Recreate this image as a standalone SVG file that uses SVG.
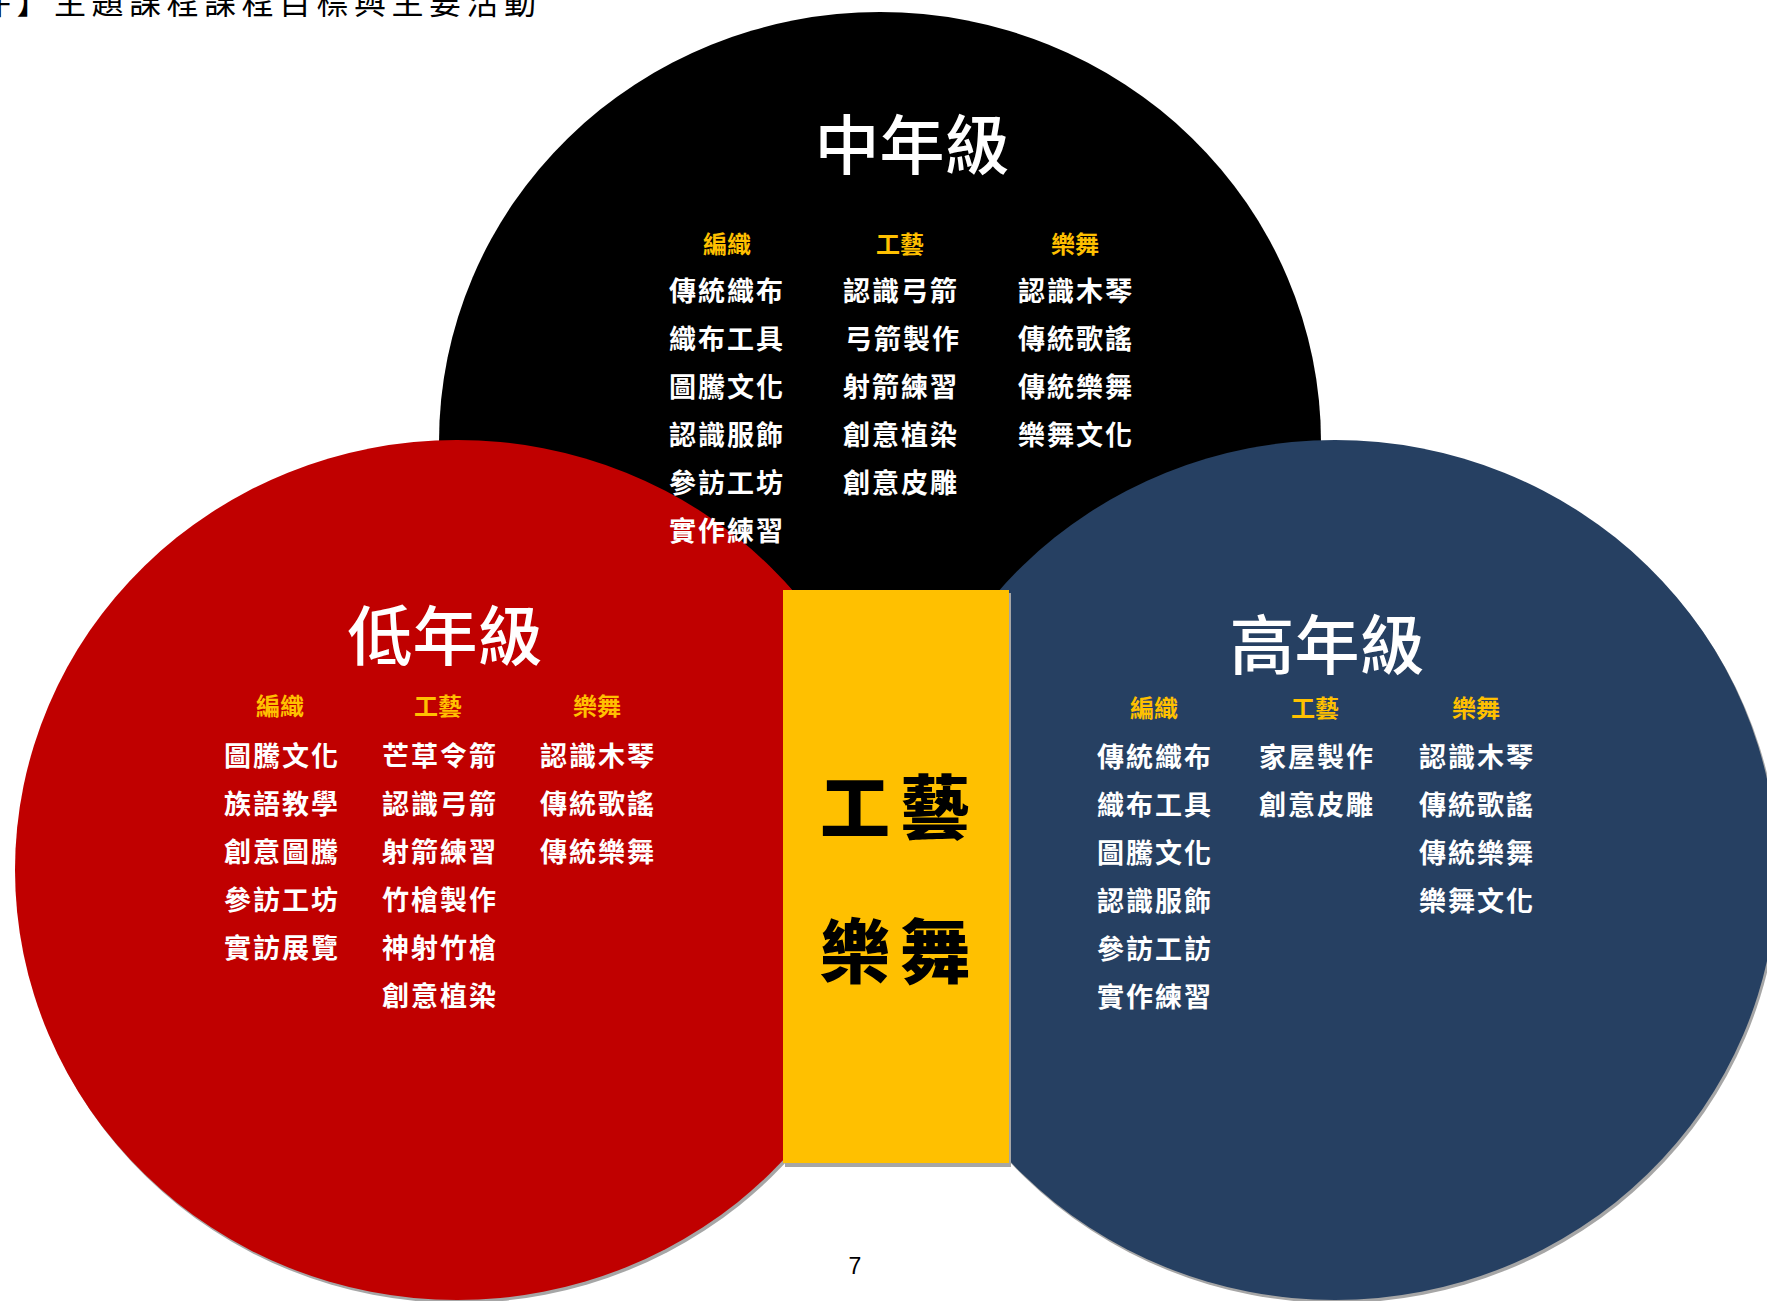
<svg xmlns="http://www.w3.org/2000/svg" width="1767" height="1301" viewBox="0 0 1767 1301">
<style>
  .cjk { font-family: "Noto Sans CJK TC", "Noto Sans CJK SC", sans-serif; }
  .title { font-size: 65px; font-weight: 500; fill: #FFFFFF; text-anchor: middle; }
  .head { font-size: 24px; font-weight: 700; fill: #FFC000; text-anchor: middle; }
  .item { font-size: 27px; font-weight: 700; fill: #FFFFFF; text-anchor: middle; letter-spacing: 2px; }
  .center { font-size: 70px; font-weight: 900; fill: #000000; text-anchor: middle; }
  .shadow { fill: #A6A6A6; }
</style>
<rect x="0" y="0" width="1767" height="1301" fill="#FFFFFF"/>

<text class="cjk" x="-21" y="14" font-size="32" letter-spacing="5.5" fill="#000000">件】主題課程課程目標與主要活動</text>

<g id="middle-grade">
  <ellipse cx="880" cy="442" rx="441" ry="430" fill="#000000"/>
</g>
<g id="lower-grade">
  <ellipse class="shadow" cx="459" cy="873" rx="442" ry="430"/>
  <ellipse cx="457" cy="870" rx="442" ry="430" fill="#C00000"/>
</g>
<g id="upper-grade">
  <ellipse class="shadow" cx="1337" cy="873" rx="442" ry="430"/>
  <ellipse cx="1335" cy="870" rx="442" ry="430" fill="#264062"/>
</g>
<g id="common-core">
  <rect class="shadow" x="785" y="593" width="226" height="574"/>
  <rect x="783" y="590" width="226" height="573" fill="#FFC000"/>
  <text class="cjk center" x="900" y="834" letter-spacing="10">工藝</text>
  <text class="cjk center" x="900" y="978" letter-spacing="10">樂舞</text>
</g>

<g id="middle-grade-text" class="cjk">
  <text class="title" x="912" y="169">中年級</text>
  <text class="head" x="727" y="253">編織</text>
  <text class="head" x="900" y="253">工藝</text>
  <text class="head" x="1075" y="253">樂舞</text>
  <text class="item" x="727" y="301">傳統織布</text>
  <text class="item" x="727" y="349">織布工具</text>
  <text class="item" x="727" y="397">圖騰文化</text>
  <text class="item" x="727" y="445">認識服飾</text>
  <text class="item" x="727" y="493">參訪工坊</text>
  <text class="item" x="727" y="541">實作練習</text>
  <text class="item" x="901" y="301">認識弓箭</text>
  <text class="item" x="903" y="349">弓箭製作</text>
  <text class="item" x="901" y="397">射箭練習</text>
  <text class="item" x="901" y="445">創意植染</text>
  <text class="item" x="901" y="493">創意皮雕</text>
  <text class="item" x="1076" y="301">認識木琴</text>
  <text class="item" x="1076" y="349">傳統歌謠</text>
  <text class="item" x="1076" y="397">傳統樂舞</text>
  <text class="item" x="1076" y="445">樂舞文化</text>
</g>

<g id="lower-grade-text" class="cjk">
  <text class="title" x="445" y="660">低年級</text>
  <text class="head" x="280" y="715">編織</text>
  <text class="head" x="438" y="715">工藝</text>
  <text class="head" x="597" y="715">樂舞</text>
  <text class="item" x="282" y="766">圖騰文化</text>
  <text class="item" x="282" y="814">族語教學</text>
  <text class="item" x="282" y="862">創意圖騰</text>
  <text class="item" x="282" y="910">參訪工坊</text>
  <text class="item" x="282" y="958">實訪展覽</text>
  <text class="item" x="440" y="766">芒草令箭</text>
  <text class="item" x="440" y="814">認識弓箭</text>
  <text class="item" x="440" y="862">射箭練習</text>
  <text class="item" x="440" y="910">竹槍製作</text>
  <text class="item" x="440" y="958">神射竹槍</text>
  <text class="item" x="440" y="1006">創意植染</text>
  <text class="item" x="598" y="766">認識木琴</text>
  <text class="item" x="598" y="814">傳統歌謠</text>
  <text class="item" x="598" y="862">傳統樂舞</text>
</g>

<g id="upper-grade-text" class="cjk">
  <text class="title" x="1327" y="669">高年級</text>
  <text class="head" x="1154" y="717">編織</text>
  <text class="head" x="1315" y="717">工藝</text>
  <text class="head" x="1476" y="717">樂舞</text>
  <text class="item" x="1155" y="767">傳統織布</text>
  <text class="item" x="1155" y="815">織布工具</text>
  <text class="item" x="1155" y="863">圖騰文化</text>
  <text class="item" x="1155" y="911">認識服飾</text>
  <text class="item" x="1155" y="959">參訪工訪</text>
  <text class="item" x="1155" y="1007">實作練習</text>
  <text class="item" x="1317" y="767">家屋製作</text>
  <text class="item" x="1317" y="815">創意皮雕</text>
  <text class="item" x="1477" y="767">認識木琴</text>
  <text class="item" x="1477" y="815">傳統歌謠</text>
  <text class="item" x="1477" y="863">傳統樂舞</text>
  <text class="item" x="1477" y="911">樂舞文化</text>
</g>

<g id="connectors"/>

<text x="855" y="1274" font-family="Liberation Sans, Arial, sans-serif" font-size="23" text-anchor="middle" fill="#000000">7</text>
</svg>
